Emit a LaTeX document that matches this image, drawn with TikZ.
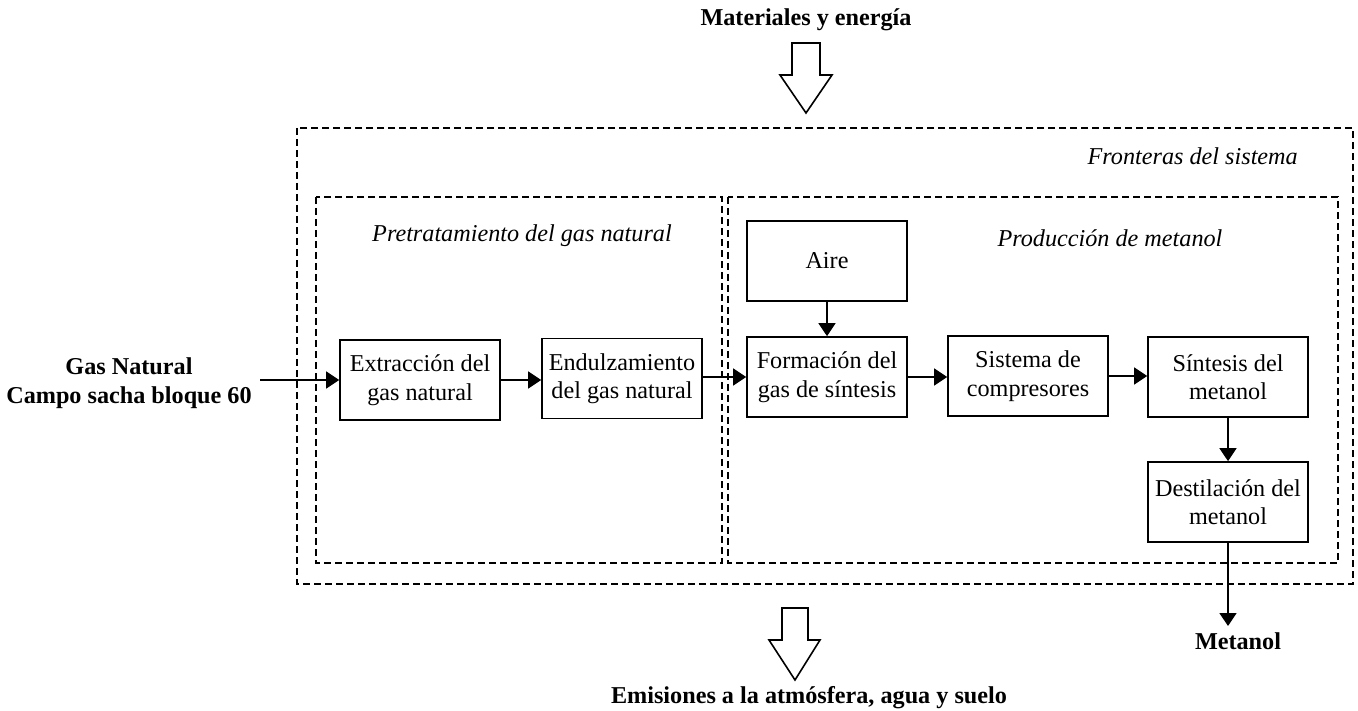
\documentclass[tikz,border=0pt]{standalone}
\usepackage{fontspec}
\setmainfont{Liberation Serif}
\usetikzlibrary{arrows.meta}
\begin{document}
\begin{tikzpicture}[x=1pt,y=-1pt,
  txt/.style={font=\fontsize{24.2}{28.5}\selectfont, align=center, inner sep=0pt},
  btxt/.style={txt, font=\fontsize{24.2}{29}\selectfont\bfseries},
  itxt/.style={txt, font=\fontsize{24.2}{28.5}\selectfont\itshape},
  procbox/.style={txt, draw, line width=1.7pt, minimum width=160pt, minimum height=80pt},
  bound/.style={draw, line width=1.6pt, dash pattern=on 7pt off 4pt},
  flow/.style={line width=1.7pt, -{Triangle[length=13pt,width=17pt]}},
  blockarrow/.style={draw, line width=1.6pt, fill=white, line join=miter}]
\useasboundingbox (0,0) rectangle (1358,711);

% boundaries
\draw[bound] (297,128) rectangle (1353,584);
\draw[bound] (316,197) rectangle (722,563);
\draw[bound] (728,197) rectangle (1338,563);

\node[itxt, anchor=east] (fronteras) at (1298,156) {Fronteras del sistema};
\node[itxt] (pretrat) at (522,236) {Pretratamiento del gas natural};
\node[itxt] (produc) at (1110,238) {Producción de metanol};

% block arrows
\draw[blockarrow] (792,43) -- (820,43) -- (820,75) -- (832,75) -- (806,113) -- (780,75) -- (792,75) -- cycle;
\draw[blockarrow] (782,608) -- (808,608) -- (808,640) -- (820,640) -- (795,680) -- (769,640) -- (782,640) -- cycle;
\node[btxt] (materiales) at (806,20) {Materiales y energía};
\node[btxt] (emisiones) at (809,698) {Emisiones a la atmósfera, agua y suelo};

% process boxes
\node[procbox] (extr) at (420,380) {Extracción del\\gas natural};
\node[procbox] (endulz) at (622,378.5) {Endulzamiento\\del gas natural};
\node[procbox] (aire) at (827,261) {Aire};
\node[procbox] (form) at (827,377) {Formación del\\gas de síntesis};
\node[procbox] (comp) at (1028,376) {Sistema de\\compresores};
\node[procbox] (sint) at (1228,377) {Síntesis del\\metanol};
\node[procbox] (dest) at (1228,502) {Destilación del\\metanol};

\node[btxt] (gas) at (129,383) {Gas Natural\\Campo sacha bloque 60};
\node[btxt] (metanol) at (1238,641) {Metanol};

\coordinate (gasend) at (260,380);
\coordinate (metend) at (1228,626);

% connectors
\draw[flow] (gasend) -- (extr.west);
\draw[flow] (extr.east) -- (extr.east -| endulz.west);
\draw[flow] (endulz.east |- form.west) -- (form.west);
\draw[flow] (form.east) -- (form.east -| comp.west);
\draw[flow] (comp.east) -- (comp.east -| sint.west);
\draw[flow] (aire.south) -- (form.north);
\draw[flow] (sint.south) -- (dest.north);
\draw[flow] (dest.south) -- (metend);
\end{tikzpicture}
\end{document}
